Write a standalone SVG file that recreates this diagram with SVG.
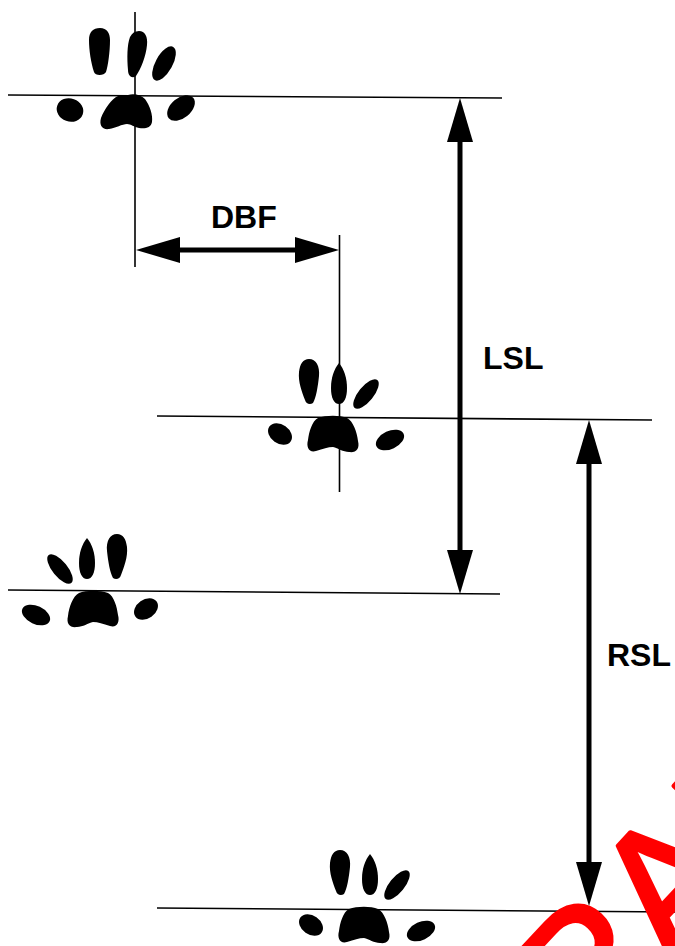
<svg xmlns="http://www.w3.org/2000/svg" xmlns:xlink="http://www.w3.org/1999/xlink" width="675" height="946" viewBox="0 0 675 946">
  <style>
    .guide { stroke: #000; stroke-width: 1.6; fill: none; }
    .shaft { stroke: #000; stroke-width: 5; fill: none; marker-start: url(#head); marker-end: url(#head); }
    .pad { fill: #000; }
    .label { font-family: "Liberation Sans", Arial, Helvetica, sans-serif; font-weight: bold; font-size: 32px; fill: #000; }
    .stamp { font-family: "Liberation Sans", Arial, Helvetica, sans-serif; font-size: 175px; fill: #ff0000; stroke: #ff0000; stroke-width: 4; stroke-linejoin: round; }
  </style>
  <defs>
    <!-- solid triangular arrowhead, base at the shaft end -->
    <marker id="head" viewBox="0 0 44 26" refX="0" refY="13" markerWidth="44" markerHeight="26" markerUnits="userSpaceOnUse" orient="auto-start-reverse">
      <path d="M0,0 L44,13 L0,26 Z" fill="#000"/>
    </marker>
    <!-- footprint drawn at the position of the middle print -->
    <g id="print">
      <path class="pad" d="M309,359 C316,359 320,366 319,376 C318,386 316,398 313,403 C310,405 306,404 305,400 C302,392 298,382 299,372 C300,364 303,359 309,359 Z"/>
      <path class="pad" d="M339,363 C344,369 347,378 347,388 C347,398 344,404 339,404 C334,404 331,398 331,388 C331,378 334,369 339,363 Z"/>
      <ellipse class="pad" cx="366" cy="394" rx="7.5" ry="18" transform="rotate(39 366 394)"/>
      <ellipse class="pad" cx="280" cy="434" rx="13" ry="9.5" transform="rotate(35 280 434)"/>
      <path class="pad" d="M318,418 C326,415 340,415 347,418 C353,421 357,432 358,441 C360,449 356,453 349,452 C343,452 338,448 333,447 C328,447 323,449 316,451 C309,453 306,447 308,440 C309,432 312,421 318,418 Z"/>
      <ellipse class="pad" cx="390" cy="440" rx="15" ry="9" transform="rotate(-25 390 440)"/>
    </g>
  </defs>
  <rect width="675" height="946" fill="#fff"/>

  <!-- footprints -->
  <g id="print-1">
    <path class="pad" d="M100,28 C107,28 110,33 110,40 C110,52 108,66 106,72 C104,76 95,76 94,72 C91,63 89,50 89,40 C89,32 93,28 100,28 Z"/>
    <path class="pad" d="M139,31 C145,31 148,37 147,45 C146,56 141,69 136,76 C132,79 128,76 128,70 C127,58 127,45 130,37 C132,33 135,31 139,31 Z"/>
    <ellipse class="pad" cx="164" cy="63.5" rx="8.5" ry="19" transform="rotate(29 164 63.5)"/>
    <ellipse class="pad" cx="70" cy="110" rx="13.5" ry="11.5" transform="rotate(20 70 110)"/>
    <path class="pad" d="M128,95 C134,93 141,95 145,99 C150,106 153,115 152,122 C151,128 145,129 139,128 C134,127 131,124 127,124 C122,124 116,128 109,129 C102,130 99,125 101,118 C104,110 112,98 118,96 C121,95 124,95 128,95 Z"/>
    <ellipse class="pad" cx="181" cy="108" rx="16" ry="10" transform="rotate(-40 181 108)"/>
  </g>
  <g id="print-2">
    <use xlink:href="#print" href="#print"/>
  </g>
  <g id="print-3">
    <use xlink:href="#print" href="#print" transform="matrix(-1 0 0 1 426 175)"/>
  </g>
  <g id="print-4">
    <use xlink:href="#print" href="#print" transform="translate(31 491)"/>
  </g>

  <!-- reference lines through the prints -->
  <g id="guides">
    <line class="guide" x1="8" y1="95" x2="502" y2="98"/>
    <line class="guide" x1="157" y1="416" x2="652" y2="420"/>
    <line class="guide" x1="8" y1="590" x2="500" y2="594"/>
    <line class="guide" x1="157" y1="908" x2="675" y2="912"/>
    <line class="guide" x1="135" y1="12" x2="135" y2="267"/>
    <line class="guide" x1="339.5" y1="235" x2="339.5" y2="492"/>
  </g>

  <!-- measurement arrows -->
  <g id="connectors">
    <line id="dbf-arrow" class="shaft" x1="180" y1="250" x2="295" y2="250"/>
    <line id="lsl-arrow" class="shaft" x1="460" y1="142" x2="460" y2="550"/>
    <line id="rsl-arrow" class="shaft" x1="589" y1="464" x2="589" y2="862"/>
  </g>

  <g id="labels">
    <text class="label" x="211" y="228">DBF</text>
    <text class="label" x="483" y="369">LSL</text>
    <text class="label" x="607" y="666">RSL</text>
  </g>

  <!-- red stamp across the lower corner -->
  <g id="stamp" transform="translate(672 964) rotate(-47)">
    <text class="stamp" x="-252.7" y="0">DRAFT</text>
  </g>
</svg>
